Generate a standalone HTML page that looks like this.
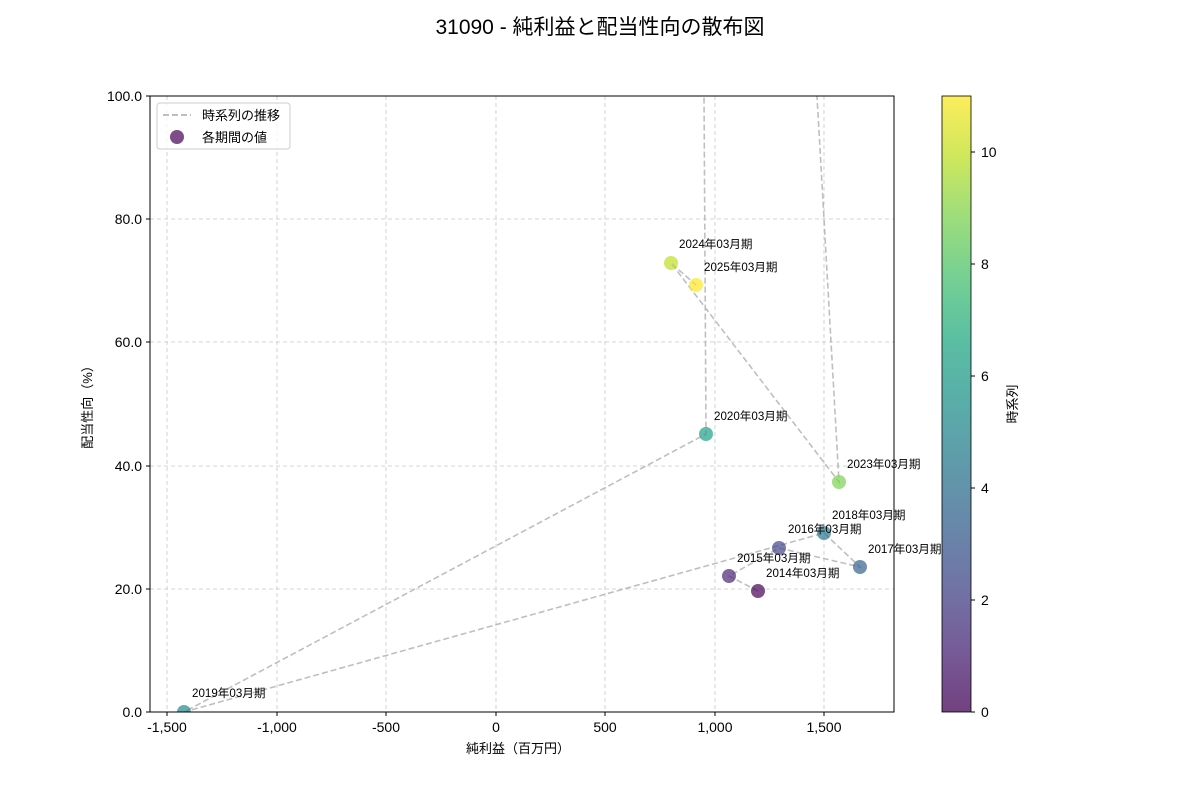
<!DOCTYPE html><html><head><meta charset="utf-8"><style>body{margin:0;background:#fff}svg{display:block;font-family:"Liberation Sans","Noto Sans CJK JP",sans-serif}</style></head><body>
<svg width="1200" height="800" xmlns="http://www.w3.org/2000/svg">
<defs><clipPath id="c"><rect x="150" y="96" width="744" height="616"/></clipPath>
<linearGradient id="v" x1="0" y1="1" x2="0" y2="0">
<stop offset="0" stop-color="#440154"/><stop offset="0.1" stop-color="#482475"/><stop offset="0.2" stop-color="#414487"/><stop offset="0.3" stop-color="#355f8d"/><stop offset="0.4" stop-color="#2a788e"/><stop offset="0.5" stop-color="#21918c"/><stop offset="0.6" stop-color="#22a884"/><stop offset="0.7" stop-color="#44bf70"/><stop offset="0.8" stop-color="#7ad151"/><stop offset="0.9" stop-color="#bddf26"/><stop offset="1" stop-color="#fde725"/></linearGradient></defs>
<text x="600" y="34" text-anchor="middle" font-size="21" fill="#000">31090 - 純利益と配当性向の散布図</text>
<g stroke="#c8c8c8" stroke-dasharray="4,3" stroke-width="0.8">
<line x1="167" y1="96" x2="167" y2="712"/><line x1="277" y1="96" x2="277" y2="712"/><line x1="386" y1="96" x2="386" y2="712"/><line x1="496" y1="96" x2="496" y2="712"/><line x1="605" y1="96" x2="605" y2="712"/><line x1="715" y1="96" x2="715" y2="712"/><line x1="824" y1="96" x2="824" y2="712"/>
<line x1="150" y1="589" x2="894" y2="589"/><line x1="150" y1="466" x2="894" y2="466"/><line x1="150" y1="342" x2="894" y2="342"/><line x1="150" y1="219" x2="894" y2="219"/>
</g>
<g clip-path="url(#c)">
<polyline fill="none" stroke="#aaa" stroke-opacity="0.75" stroke-width="1.6" stroke-dasharray="6,3" points="758,591 729,576 779,548 860,567 824,533 184,712 706,434 701.7,-300 794.4,-300 839,482 671,263 696,285"/>
<g fill-opacity="0.7">
<circle cx="758" cy="591" r="7" fill="#440154"/><circle cx="729" cy="576" r="7" fill="#482576"/><circle cx="779" cy="548" r="7" fill="#414487"/><circle cx="860" cy="567" r="7" fill="#355f8d"/><circle cx="824" cy="533" r="7" fill="#2a788e"/><circle cx="184" cy="712" r="7" fill="#23898e"/><circle cx="706" cy="434" r="7" fill="#1fa088"/><circle cx="839" cy="482" r="7" fill="#7ad151"/><circle cx="671" cy="263" r="7" fill="#bddf26"/><circle cx="696" cy="285" r="7" fill="#fde725"/>
</g></g>
<g font-size="11.6" fill="#000">
<text x="766" y="577">2014年03月期</text><text x="737" y="562">2015年03月期</text><text x="788" y="533">2016年03月期</text><text x="868" y="553">2017年03月期</text><text x="832" y="519">2018年03月期</text><text x="192" y="697">2019年03月期</text><text x="714" y="420">2020年03月期</text><text x="847" y="468">2023年03月期</text><text x="679" y="248">2024年03月期</text><text x="704" y="271">2025年03月期</text>
</g>
<rect x="150" y="96" width="744" height="616" fill="none" stroke="#000" stroke-width="1"/>
<g font-size="14" fill="#000" text-anchor="middle">
<text x="167" y="732">-1,500</text><text x="277" y="732">-1,000</text><text x="386" y="732">-500</text><text x="496" y="732">0</text><text x="605" y="732">500</text><text x="715" y="732">1,000</text><text x="824" y="732">1,500</text>
</g>
<g stroke="#000"><line x1="167" y1="712" x2="167" y2="716"/><line x1="277" y1="712" x2="277" y2="716"/><line x1="386" y1="712" x2="386" y2="716"/><line x1="496" y1="712" x2="496" y2="716"/><line x1="605" y1="712" x2="605" y2="716"/><line x1="715" y1="712" x2="715" y2="716"/><line x1="824" y1="712" x2="824" y2="716"/>
<line x1="146" y1="712" x2="150" y2="712"/><line x1="146" y1="589" x2="150" y2="589"/><line x1="146" y1="466" x2="150" y2="466"/><line x1="146" y1="342" x2="150" y2="342"/><line x1="146" y1="219" x2="150" y2="219"/><line x1="146" y1="96" x2="150" y2="96"/></g>
<g font-size="14" fill="#000" text-anchor="end">
<text x="142" y="717">0.0</text><text x="142" y="594">20.0</text><text x="142" y="471">40.0</text><text x="142" y="347">60.0</text><text x="142" y="224">80.0</text><text x="142" y="101">100.0</text></g>
<text x="518" y="753" text-anchor="middle" font-size="13">純利益（百万円）</text>
<text transform="translate(92,404) rotate(-90)" text-anchor="middle" font-size="13">配当性向（%）</text>
<rect x="157" y="103" width="133" height="46" rx="3" fill="#fff" fill-opacity="0.8" stroke="#ccc"/>
<line x1="163" y1="115" x2="191" y2="115" stroke="#aaa" stroke-width="1.6" stroke-dasharray="6,3"/>
<text x="202" y="120" font-size="13">時系列の推移</text>
<circle cx="177" cy="137" r="7" fill="#440154" fill-opacity="0.7"/>
<text x="202" y="142" font-size="13">各期間の値</text>
<rect x="942" y="96" width="29" height="616" fill="url(#v)" fill-opacity="0.75" stroke="#000" stroke-width="0.8"/>
<g stroke="#000"><line x1="971" y1="712" x2="975" y2="712"/><line x1="971" y1="600" x2="975" y2="600"/><line x1="971" y1="488" x2="975" y2="488"/><line x1="971" y1="376" x2="975" y2="376"/><line x1="971" y1="264" x2="975" y2="264"/><line x1="971" y1="152" x2="975" y2="152"/></g>
<g font-size="14"><text x="981" y="717">0</text><text x="981" y="605">2</text><text x="981" y="493">4</text><text x="981" y="381">6</text><text x="981" y="269">8</text><text x="981" y="157">10</text></g>
<text transform="translate(1017,404) rotate(-90)" text-anchor="middle" font-size="13">時系列</text>
</svg></body></html>
